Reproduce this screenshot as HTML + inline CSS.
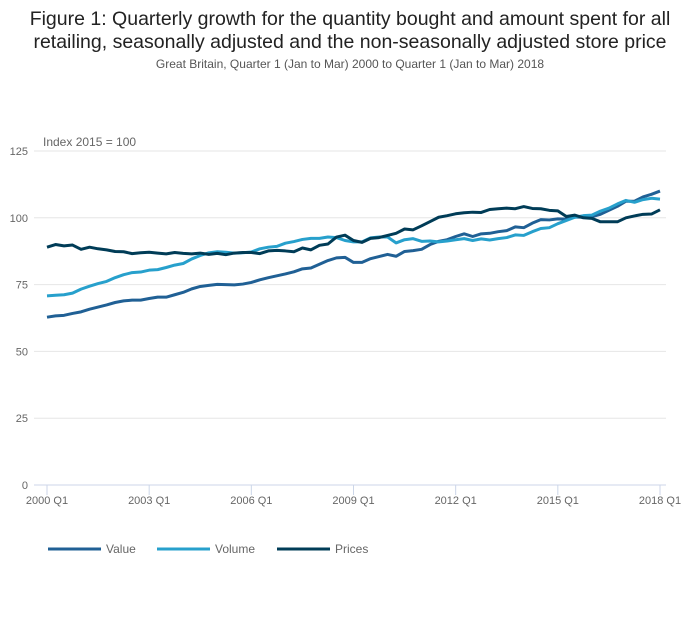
<!DOCTYPE html>
<html><head><meta charset="utf-8"><style>
body{margin:0;background:#fff;font-family:"Liberation Sans",sans-serif;}
#wrap{position:relative;width:700px;height:635px;overflow:hidden;}
.t{position:absolute;left:0;width:700px;text-align:center;color:#222;}
</style></head><body>
<div id="wrap">
<div class="t" style="top:8px;font-size:19.5px;line-height:23px;">Figure 1: Quarterly growth for the quantity bought and amount spent for all<br>retailing, seasonally adjusted and the non-seasonally adjusted store price</div>
<div class="t" style="top:57px;font-size:12px;color:#555;">Great Britain, Quarter 1 (Jan to Mar) 2000 to Quarter 1 (Jan to Mar) 2018</div>
<svg id="svg" width="700" height="635" style="position:absolute;left:0;top:0"></svg>
</div>
<script>
const categories=[];for(let y=2000;y<=2018;y++)for(let q=1;q<=4;q++){if(y===2018&&q>1)break;categories.push(y+" Q"+q);}
const valueSeries=[62.8,63.3,63.5,64.2,64.8,65.8,66.6,67.4,68.3,68.9,69.2,69.2,69.8,70.3,70.3,71.2,72.1,73.4,74.3,74.7,75.1,75.0,74.9,75.2,75.8,76.8,77.6,78.3,79.0,79.8,80.9,81.2,82.6,84.0,85.0,85.2,83.3,83.3,84.7,85.5,86.3,85.6,87.4,87.7,88.2,90.0,91.2,91.8,93.0,94.0,93.0,94.0,94.2,94.8,95.2,96.6,96.3,98.0,99.3,99.2,99.6,99.5,100.3,100.2,100.4,101.3,102.8,104.3,106.2,106.2,107.8,108.8,110.0];
const volumeSeries=[70.8,71.0,71.2,71.8,73.3,74.4,75.4,76.2,77.6,78.7,79.5,79.7,80.4,80.6,81.4,82.3,82.9,84.6,85.9,86.9,87.3,87.1,86.8,86.9,87.2,88.4,89.0,89.3,90.5,91.1,91.9,92.3,92.3,92.8,92.6,91.5,91.0,91.0,92.5,92.8,92.8,90.6,91.8,92.2,91.2,91.3,91.0,91.3,91.8,92.2,91.5,92.1,91.7,92.2,92.6,93.6,93.4,94.8,96.0,96.3,97.8,99.0,100.2,100.8,101.0,102.5,103.6,105.2,106.5,105.8,106.8,107.3,107.0];
const pricesSeries=[89.0,90.0,89.5,89.8,88.2,89.0,88.4,88.0,87.4,87.3,86.6,86.9,87.1,86.8,86.5,87.0,86.7,86.5,86.8,86.3,86.7,86.2,86.8,87.0,87.0,86.6,87.6,87.8,87.6,87.3,88.7,88.0,89.7,90.2,92.8,93.5,91.5,90.8,92.3,92.6,93.4,94.2,95.8,95.5,97.0,98.6,100.2,100.8,101.5,101.9,102.1,102.0,103.1,103.4,103.6,103.4,104.2,103.5,103.4,102.8,102.6,100.5,101.0,100.0,99.8,98.5,98.5,98.5,100.0,100.7,101.3,101.4,103.0];
const yTicks=[0,25,50,75,100,125];
const xTickLabels=["2000 Q1","2003 Q1","2006 Q1","2009 Q1","2012 Q1","2015 Q1","2018 Q1"];
const NS="http://www.w3.org/2000/svg",svg=document.getElementById("svg");
const x0=47,x1=660,y0=485,y1=151;
const xs=i=>x0+(x1-x0)*i/(categories.length-1);
const ys=v=>y0-(y0-y1)*v/125;
function mk(t,a,p){const e=document.createElementNS(NS,t);for(const k in a)e.setAttribute(k,a[k]);(p||svg).appendChild(e);return e;}
yTicks.forEach(v=>{
 const g=mk("line",{x1:34,x2:666,y1:ys(v),y2:ys(v),stroke:v===0?"#ccd6e8":"#e6e6e6","stroke-width":1});
 
 
 const t=mk("text",{x:28,y:ys(v)+4,"text-anchor":"end","font-size":11,fill:"#666"});t.textContent=v;
 
 
});
const yt=mk("text",{x:43,y:146,"font-size":12,fill:"#666"});yt.textContent="Index 2015 = 100";


xTickLabels.forEach(l=>{
 const i=categories.indexOf(l);
 const tk=mk("line",{x1:xs(i),x2:xs(i),y1:485,y2:495,stroke:"#ccd6e8"});
 
 
 const t=mk("text",{x:xs(i),y:504,"text-anchor":"middle","font-size":11,fill:"#666"});t.textContent=l;
 
 
});
[[valueSeries,"#206095","value"],[volumeSeries,"#27a0cc","volume"],[pricesSeries,"#003c57","prices"]].forEach(([d,c,n])=>{
 const p=mk("polyline",{points:d.map((v,i)=>xs(i)+","+ys(v)).join(" "),fill:"none",stroke:c,"stroke-width":3,"stroke-linejoin":"round"});
 
 
});
[["Value","#206095",48],["Volume","#27a0cc",157],["Prices","#003c57",277]].forEach(([n,c,x])=>{
 const g=mk("g",{});
 
 
 mk("line",{x1:x,x2:x+53,y1:549,y2:549,stroke:c,"stroke-width":3},g);
 const t=mk("text",{x:x+58,y:553,"font-size":12,fill:"#666"},g);t.textContent=n;
});
</script>
</body></html>
